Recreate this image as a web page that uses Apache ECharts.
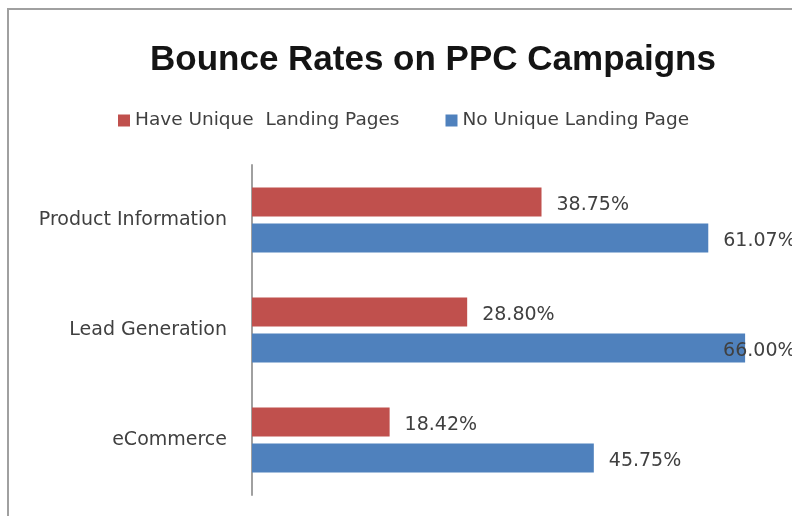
<!DOCTYPE html>
<html>
<head>
<meta charset="utf-8">
<script src="https://cdn.jsdelivr.net/npm/echarts@6/dist/echarts.min.js"></script>
<style>
html,body{margin:0;padding:0;background:#fff;}
#chart{width:792px;height:516px;}
</style>
</head>
<body>
<div id="chart"></div>
<script>
const categories = ['Product Information', 'Lead Generation', 'eCommerce'];
const seriesNames = ['Have Unique  Landing Pages', 'No Unique Landing Page'];
const haveUnique = [38.75, 28.80, 18.42];
const noUnique = [61.07, 66.00, 45.75];
const chartTitle = 'Bounce Rates on PPC Campaigns';

const FONT = 'DejaVu Sans';
const chart = echarts.init(document.getElementById('chart'), null, {renderer: 'canvas'});

function labelCfg() {
  return {
    show: true,
    position: 'right',
    distance: 15,
    offset: [0, 3],
    fontFamily: FONT,
    fontSize: 19,
    color: '#404040',
    formatter: p => p.value.toFixed(2) + '%'
  };
}

const noUniqueData = noUnique.map(v => {
  if (v > 63) {
    return {value: v, label: {offset: [-37, 3]}};
  }
  return v;
});

chart.setOption({
  animation: false,
  backgroundColor: '#ffffff',
  title: {
    text: chartTitle,
    left: 145,
    top: 38,
    textStyle: {fontFamily: 'Liberation Sans', fontWeight: 'bold', fontSize: 35, color: '#141414'}
  },
  legend: {
    left: 113,
    top: 106,
    itemWidth: 12,
    itemHeight: 12,
    itemGap: 46,
    icon: 'rect',
    textStyle: {fontFamily: FONT, fontSize: 18.5, color: '#404040'},
    data: seriesNames
  },
  graphic: [{
    type: 'rect',
    shape: {x: 8, y: 9, width: 800, height: 530},
    style: {fill: 'none', stroke: '#a0a0a0', lineWidth: 2},
    silent: true
  }],
  grid: {left: 252, right: 17, top: 165, bottom: 21, containLabel: false},
  xAxis: {
    type: 'value',
    min: 0,
    max: 70,
    show: false
  },
  yAxis: {
    type: 'category',
    data: categories,
    inverse: true,
    axisLine: {show: true, lineStyle: {color: '#a0a0a0', width: 2}},
    axisTick: {show: false},
    axisLabel: {fontFamily: FONT, fontSize: 19, color: '#404040', margin: 25}
  },
  series: [
    {
      name: seriesNames[0],
      type: 'bar',
      data: haveUnique,
      barWidth: 29,
      barGap: '24%',
      itemStyle: {color: '#C0504D'},
      label: labelCfg()
    },
    {
      name: seriesNames[1],
      type: 'bar',
      data: noUniqueData,
      barWidth: 29,
      barGap: '24%',
      itemStyle: {color: '#4F81BD'},
      label: labelCfg()
    }
  ]
});
</script>
</body>
</html>
